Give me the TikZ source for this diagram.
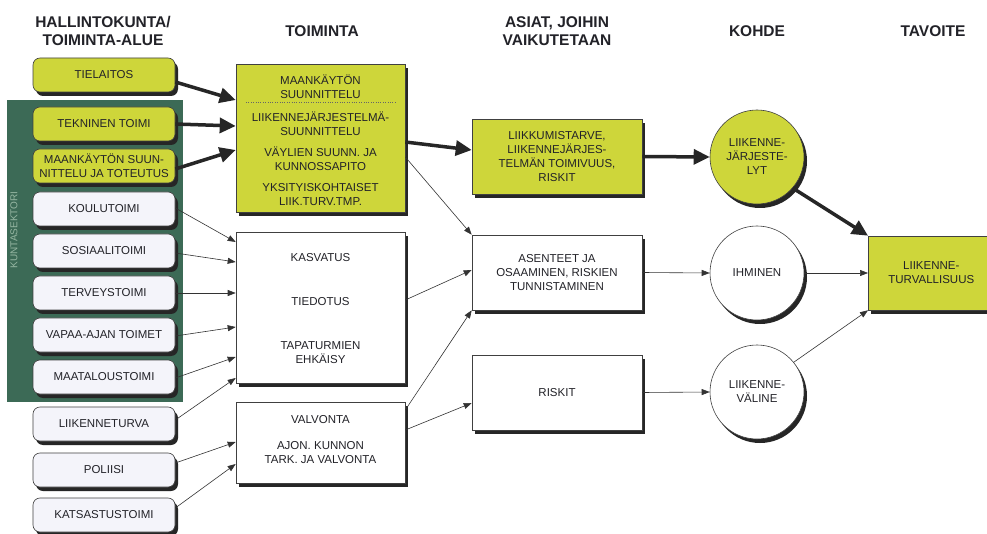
\documentclass[tikz,border=0pt]{standalone}
\usepackage{fontspec}
\setmainfont{Liberation Sans}
\usetikzlibrary{shadows,arrows.meta}

\definecolor{keltainen}{RGB}{206,214,58}
\definecolor{kunta}{RGB}{60,106,86}
\definecolor{kuntateksti}{RGB}{150,182,162}
\definecolor{vaalea}{RGB}{244,244,250}
\definecolor{tumma}{RGB}{34,34,40}

\begin{document}
\begin{tikzpicture}[x=1pt, y=-1pt,
    teksti/.style={font=\fontsize{11.5}{14}\selectfont, text=tumma, align=center},
    otsikko/.style={font=\fontsize{15.5}{18}\selectfont\bfseries, text=tumma, align=center},
    varjo/.style={drop shadow={shadow xshift=3pt, shadow yshift=-4pt, fill=black!85, opacity=1}},
    hallinto/.style={teksti, draw=black!75, fill=vaalea, line width=0.6pt, rounded corners=7pt,
      minimum width=142pt, minimum height=34pt, inner sep=1pt, varjo},
    laatikko/.style={draw=black!75, line width=0.6pt, fill=white, inner sep=2pt, varjo},
    ympyra/.style={teksti, circle, draw=black!75, line width=0.6pt, fill=white,
      minimum size=94pt, inner sep=0pt, varjo},
    isonuoli/.style={line width=3.5pt, draw=black!85, -{Triangle[length=16pt,width=15pt]}},
    nuoli/.style={line width=0.6pt, draw=black!80, -{Triangle[length=8pt,width=6pt]}}
  ]
    \useasboundingbox (0,0) rectangle (987,534);
    \fill[white] (0,0) rectangle (987,534);

    % Column headings
    \node[otsikko] (h1) at (103,31) {HALLINTOKUNTA/\\TOIMINTA-ALUE};
    \node[otsikko] (h2) at (322,31) {TOIMINTA};
    \node[otsikko] (h3) at (557,31) {ASIAT, JOIHIN\\VAIKUTETAAN};
    \node[otsikko] (h4) at (757,31) {KOHDE};
    \node[otsikko] (h5) at (933,31) {TAVOITE};

    % Municipal sector backdrop
    \fill[kunta] (7,100) rectangle (183,402);
    \node[rotate=90, font=\fontsize{10}{12}\selectfont, text=kuntateksti] (kunta) at (14,230) {KUNTASEKTORI};

    % Administrative bodies
    \node[hallinto, fill=keltainen] (tielaitos) at (104,75) {TIELAITOS};
    \node[hallinto, fill=keltainen] (tekninen) at (104,124) {TEKNINEN TOIMI};
    \node[hallinto, fill=keltainen] (maankaytto) at (104,166) {MAANKÄYTÖN SUUN-\\NITTELU JA TOTEUTUS};
    \foreach \nimi/\y/\txt in {koulu/209/KOULUTOIMI, sosiaali/251/SOSIAALITOIMI,
        terveys/293/TERVEYSTOIMI, vapaa/335/VAPAA-AJAN TOIMET, maatalous/377/MAATALOUSTOIMI,
        liikturva/424/LIIKENNETURVA, poliisi/470/POLIISI, katsastus/515/KATSASTUSTOIMI} {
      \node[hallinto] (\nimi) at (104,\y) {\txt};
    }

    % Activities
    \node[laatikko, fill=keltainen, minimum width=169pt, minimum height=148pt] (suunnittelu) at (320.5,138) {};
    \node[teksti] (s1) at (320.5,86.5) {MAANKÄYTÖN\\SUUNNITTELU};
    \draw[dotted, black!60] (246,102) -- (395,102);
    \node[teksti] (s2) at (320.5,124) {LIIKENNEJÄRJESTELMÄ-\\SUUNNITTELU};
    \node[teksti] (s3) at (320.5,159) {VÄYLIEN SUUNN. JA\\KUNNOSSAPITO};
    \node[teksti] (s4) at (320.5,195) {YKSITYISKOHTAISET\\LIIK.TURV.TMP.};

    \node[laatikko, minimum width=169pt, minimum height=151pt] (kasvatus) at (320.5,307.5) {};
    \node[teksti] (k1) at (320.5,258) {KASVATUS};
    \node[teksti] (k2) at (320.5,302) {TIEDOTUS};
    \node[teksti] (k3) at (320.5,352.5) {TAPATURMIEN\\EHKÄISY};

    \node[laatikko, minimum width=169pt, minimum height=81pt] (valvonta) at (320.5,442.5) {};
    \node[teksti] (v1) at (320.5,420) {VALVONTA};
    \node[teksti] (v2) at (320.5,453) {AJON. KUNNON\\TARK. JA VALVONTA};

    % Things affected
    \node[laatikko, teksti, fill=keltainen, minimum width=170pt, minimum height=75pt] (liikkuminen) at (557,156.5)
      {LIIKKUMISTARVE,\\LIIKENNEJÄRJES-\\TELMÄN TOIMIVUUS,\\RISKIT};
    \node[laatikko, teksti, minimum width=170pt, minimum height=75pt] (asenteet) at (557,272.5)
      {ASENTEET JA\\OSAAMINEN, RISKIEN\\TUNNISTAMINEN};
    \node[laatikko, teksti, minimum width=170pt, minimum height=75pt] (riskit) at (557,392.5) {RISKIT};

    % Targets
    \node[ympyra, fill=keltainen] (jarjestelyt) at (757,157) {LIIKENNE-\\JÄRJESTE-\\LYT};
    \node[ympyra] (ihminen) at (757,273) {IHMINEN};
    \node[ympyra] (valine) at (757,392) {LIIKENNE-\\VÄLINE};

    % Goal
    \node[laatikko, teksti, fill=keltainen, minimum width=126pt, minimum height=74pt, anchor=west] (tavoite) at (868,273)
      {LIIKENNE-\\TURVALLISUUS};

    % Heavy arrows
    \draw[isonuoli] ([yshift=-7pt]tielaitos.east) -- ([yshift=38pt]suunnittelu.west);
    \draw[isonuoli] (tekninen.east) -- ([yshift=12pt]suunnittelu.west);
    \draw[isonuoli] ([yshift=-3pt]maankaytto.east) -- ([yshift=-12pt]suunnittelu.west);
    \draw[isonuoli] ([yshift=-4pt]suunnittelu.east) -- ([yshift=6.5pt]liikkuminen.west);
    \draw[isonuoli] (liikkuminen.east) -- (jarjestelyt.west);
    \draw[isonuoli] (jarjestelyt.-41) -- (tavoite.north west);

    % Thin arrows into the activities
    \draw[nuoli] ([yshift=1pt]koulu.east) -- ([yshift=65.5pt]kasvatus.west);
    \draw[nuoli] ([yshift=-2pt]sosiaali.east) -- ([yshift=45.5pt]kasvatus.west);
    \draw[nuoli] (terveys.east) -- ([yshift=14.5pt]kasvatus.west);
    \draw[nuoli] ([yshift=-1pt]vapaa.east) -- ([yshift=-19.5pt]kasvatus.west);
    \draw[nuoli] ([yshift=-1pt]maatalous.east) -- ([yshift=-49.5pt]kasvatus.west);
    \draw[nuoli] ([yshift=4pt]liikturva.east) -- ([yshift=-70.5pt]kasvatus.west);
    \draw[nuoli] ([yshift=7pt]poliisi.east) -- ([yshift=0.5pt]valvonta.west);
    \draw[nuoli] ([yshift=7pt]katsastus.east) -- ([yshift=-21.5pt]valvonta.west);

    % Thin arrows onwards
    \draw[nuoli] ([yshift=-19pt]suunnittelu.east) -- (asenteet.north west);
    \draw[nuoli] ([yshift=7.5pt]kasvatus.east) -- ([yshift=2.5pt]asenteet.west);
    \draw[nuoli] ([yshift=32.5pt]valvonta.east) -- (asenteet.south west);
    \draw[nuoli] ([yshift=12.5pt]valvonta.east) -- ([yshift=-10.5pt]riskit.west);
    \draw[nuoli] (asenteet.east) -- (ihminen.west);
    \draw[nuoli] (riskit.east) -- (valine.west);
    \draw[nuoli] (ihminen.east) -- (tavoite.west);
    \draw[nuoli] (valine.39) -- (tavoite.south west);

  \end{tikzpicture}
\end{document}
